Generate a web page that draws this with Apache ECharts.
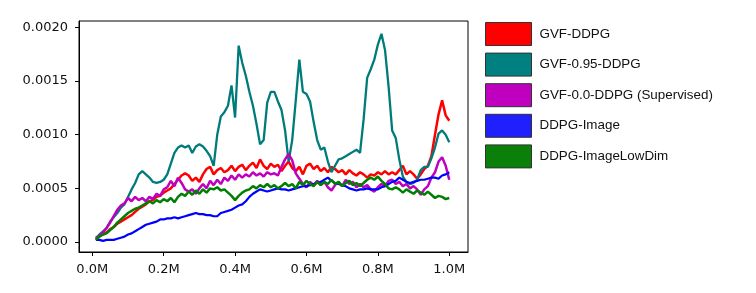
<!DOCTYPE html>
<html>
<head>
<meta charset="utf-8">
<script src="https://cdn.jsdelivr.net/npm/echarts@6/dist/echarts.min.js"></script>
<style>
html,body{margin:0;padding:0;background:#fff;}
#chart{width:756px;height:293px;}
</style>
</head>
<body>
<div id="chart"></div>
<script>
// Training steps (millions)
const steps = [0.01,0.02,0.03,0.04,0.05,0.06,0.07,0.08,0.09,0.10,
0.11,0.12,0.13,0.14,0.15,0.16,0.17,0.18,0.19,0.20,
0.21,0.22,0.23,0.24,0.25,0.26,0.27,0.28,0.29,0.30,
0.31,0.32,0.33,0.34,0.35,0.36,0.37,0.38,0.39,0.40,
0.41,0.42,0.43,0.44,0.45,0.46,0.47,0.48,0.49,0.50,
0.51,0.52,0.53,0.54,0.55,0.56,0.57,0.58,0.59,0.60,
0.61,0.62,0.63,0.64,0.65,0.66,0.67,0.68,0.69,0.70,
0.71,0.72,0.73,0.74,0.75,0.76,0.77,0.78,0.79,0.80,
0.81,0.82,0.83,0.84,0.85,0.86,0.87,0.88,0.89,0.90,
0.91,0.92,0.93,0.94,0.95,0.96,0.97,0.98,0.99,1.00];

const gvfDDPG = [4e-5,6e-5,7e-5,9e-5,12e-5,14e-5,17e-5,19e-5,21e-5,23e-5,
25e-5,28e-5,31e-5,33e-5,35e-5,38e-5,39e-5,42e-5,43e-5,46e-5,
48e-5,50e-5,54e-5,58e-5,62e-5,64e-5,62e-5,57e-5,60e-5,56e-5,
63e-5,68e-5,70e-5,63e-5,67e-5,69e-5,65e-5,67e-5,71e-5,66e-5,
70e-5,72e-5,67e-5,71e-5,74e-5,69e-5,77e-5,71e-5,68e-5,73e-5,
70e-5,72e-5,66e-5,71e-5,75e-5,69e-5,66e-5,70e-5,63e-5,71e-5,
73e-5,68e-5,71e-5,66e-5,69e-5,65e-5,70e-5,68e-5,65e-5,67e-5,
63e-5,67e-5,64e-5,62e-5,65e-5,63e-5,60e-5,63e-5,62e-5,65e-5,
63e-5,66e-5,63e-5,65e-5,63e-5,67e-5,71e-5,63e-5,66e-5,63e-5,
59e-5,63e-5,68e-5,71e-5,80e-5,100e-5,119e-5,132e-5,118e-5,113e-5];

const gvf095DDPG = [3e-5,7e-5,10e-5,13e-5,19e-5,23e-5,27e-5,32e-5,35e-5,42e-5,
49e-5,55e-5,63e-5,66e-5,63e-5,60e-5,56e-5,55e-5,56e-5,58e-5,
63e-5,73e-5,83e-5,88e-5,90e-5,88e-5,90e-5,83e-5,89e-5,91e-5,
89e-5,85e-5,80e-5,71e-5,100e-5,117e-5,121e-5,127e-5,146e-5,116e-5,
183e-5,167e-5,155e-5,140e-5,127e-5,110e-5,91e-5,95e-5,130e-5,140e-5,
140e-5,131e-5,123e-5,104e-5,75e-5,95e-5,132e-5,170e-5,140e-5,138e-5,
131e-5,112e-5,95e-5,86e-5,88e-5,75e-5,65e-5,71e-5,77e-5,78e-5,
80e-5,82e-5,84e-5,86e-5,83e-5,114e-5,153e-5,161e-5,170e-5,184e-5,
194e-5,179e-5,145e-5,104e-5,97e-5,77e-5,61e-5,56e-5,54e-5,55e-5,
58e-5,67e-5,70e-5,70e-5,78e-5,88e-5,101e-5,104e-5,100e-5,93e-5];

const gvf00DDPG = [2e-5,6e-5,9e-5,13e-5,18e-5,24e-5,30e-5,34e-5,36e-5,41e-5,
38e-5,42e-5,39e-5,41e-5,38e-5,42e-5,40e-5,45e-5,43e-5,49e-5,
51e-5,57e-5,52e-5,60e-5,55e-5,49e-5,47e-5,49e-5,45e-5,50e-5,
54e-5,50e-5,57e-5,53e-5,58e-5,54e-5,60e-5,57e-5,62e-5,58e-5,
63e-5,60e-5,63e-5,61e-5,65e-5,62e-5,64e-5,61e-5,65e-5,63e-5,
64e-5,62e-5,70e-5,77e-5,82e-5,76e-5,64e-5,59e-5,54e-5,51e-5,
56e-5,53e-5,57e-5,53e-5,56e-5,51e-5,48e-5,53e-5,56e-5,52e-5,
58e-5,54e-5,56e-5,51e-5,54e-5,51e-5,53e-5,49e-5,47e-5,51e-5,
54e-5,52e-5,57e-5,58e-5,54e-5,56e-5,52e-5,54e-5,50e-5,52e-5,
49e-5,44e-5,49e-5,52e-5,60e-5,65e-5,75e-5,79e-5,71e-5,58e-5];

const ddpgImage = [2e-5,2e-5,1e-5,2e-5,2e-5,2e-5,3e-5,4e-5,5e-5,7e-5,
8e-5,10e-5,12e-5,14e-5,16e-5,17e-5,18e-5,19e-5,21e-5,21e-5,
22e-5,22e-5,23e-5,22e-5,23e-5,24e-5,25e-5,26e-5,27e-5,26e-5,
26e-5,25e-5,25e-5,24e-5,24e-5,27e-5,28e-5,29e-5,30e-5,32e-5,
34e-5,35e-5,38e-5,42e-5,45e-5,47e-5,49e-5,48e-5,47e-5,48e-5,
49e-5,50e-5,49e-5,49e-5,48e-5,49e-5,50e-5,51e-5,52e-5,52e-5,
53e-5,54e-5,55e-5,56e-5,58e-5,60e-5,57e-5,55e-5,54e-5,53e-5,
52e-5,50e-5,49e-5,48e-5,49e-5,49e-5,50e-5,49e-5,49e-5,49e-5,
51e-5,52e-5,54e-5,56e-5,57e-5,60e-5,58e-5,56e-5,55e-5,56e-5,
57e-5,58e-5,58e-5,59e-5,60e-5,60e-5,59e-5,62e-5,63e-5,65e-5];

const ddpgImageLowDim = [2e-5,5e-5,7e-5,8e-5,11e-5,14e-5,18e-5,21e-5,24e-5,27e-5,
29e-5,31e-5,32e-5,34e-5,36e-5,38e-5,36e-5,39e-5,37e-5,40e-5,
38e-5,41e-5,37e-5,42e-5,45e-5,43e-5,47e-5,44e-5,48e-5,45e-5,
49e-5,46e-5,50e-5,49e-5,51e-5,48e-5,49e-5,46e-5,43e-5,39e-5,
43e-5,46e-5,48e-5,49e-5,52e-5,50e-5,53e-5,51e-5,54e-5,51e-5,
53e-5,50e-5,52e-5,55e-5,52e-5,54e-5,50e-5,56e-5,53e-5,57e-5,
54e-5,52e-5,56e-5,53e-5,56e-5,54e-5,58e-5,54e-5,56e-5,52e-5,
55e-5,57e-5,53e-5,55e-5,52e-5,55e-5,58e-5,60e-5,58e-5,61e-5,
57e-5,54e-5,50e-5,49e-5,51e-5,49e-5,46e-5,49e-5,47e-5,45e-5,
48e-5,46e-5,44e-5,47e-5,44e-5,41e-5,43e-5,42e-5,40e-5,41e-5];

const seriesNames = ['GVF-DDPG','GVF-0.95-DDPG','GVF-0.0-DDPG (Supervised)','DDPG-Image','DDPG-ImageLowDim'];
const seriesValues = [gvfDDPG, gvf095DDPG, gvf00DDPG, ddpgImage, ddpgImageLowDim];
const lineColors = ['#ff0000','#007b7b','#bf00bf','#0000ff','#008000'];
const legendColors = ['#ff0000','#008080','#bf00bf','#2020ff','#0a800a'];
const lineWidths = [2.5, 2.3, 2.5, 2.2, 2.5];
const xTicks = [0,0.2,0.4,0.6,0.8,1.0];
const yTicks = [0,0.0005,0.001,0.0015,0.002];

const chart = echarts.init(document.getElementById('chart'), null, {renderer:'canvas'});
const series = seriesNames.map((name,i)=>({
  name: name,
  type: 'line',
  data: steps.map((x,j)=>[x, seriesValues[i][j]]),
  showSymbol: false,
  symbol: 'none',
  lineStyle: {color: lineColors[i], width: lineWidths[i]},
  itemStyle: {color: legendColors[i]},
  silent: true
}));

chart.setOption({
  animation: false,
  backgroundColor: '#fff',
  grid: {left: 79, top: 21, right: 288, bottom: 41, show: true, borderColor: '#000', borderWidth: 1, backgroundColor: 'transparent'},
  legend: {
    orient: 'vertical', left: 485, top: 22, padding: 0,
    icon: 'rect', itemWidth: 46, itemHeight: 23, itemGap: 6.6,
    textStyle: {fontFamily: '"Liberation Sans", Arial, sans-serif', fontSize: 13.4, color: '#111', padding: [0,0,0,3]},
    itemStyle: {borderColor: '#333', borderWidth: 1},
    selectedMode: false,
    data: seriesNames.map((n,i)=>({name: n, itemStyle: {color: legendColors[i], borderColor:'#333', borderWidth:1}}))
  },
  xAxis: {
    type: 'value', min: -0.0373, max: 1.0525,
    splitLine: {show: false},
    axisLine: {show: true, onZero: false, lineStyle: {color: '#000', width: 1}},
    axisTick: {show: true, length: 4, lineStyle: {color: '#000'}, customValues: xTicks},
    axisLabel: {customValues: xTicks, margin: 11, fontFamily: 'DejaVu Sans', fontSize: 13, color: '#111',
      formatter: v => v.toFixed(1) + 'M'}
  },
  yAxis: {
    type: 'value', min: -0.0000935, max: 0.00206,
    splitLine: {show: false},
    axisLine: {show: true, onZero: false, lineStyle: {color: '#000', width: 1}},
    axisTick: {show: true, length: 4, lineStyle: {color: '#000'}, customValues: yTicks},
    axisLabel: {customValues: yTicks, margin: 11, fontFamily: 'DejaVu Sans', fontSize: 13, color: '#111',
      formatter: v => v.toFixed(4)}
  },
  series: series
});
</script>
</body>
</html>
